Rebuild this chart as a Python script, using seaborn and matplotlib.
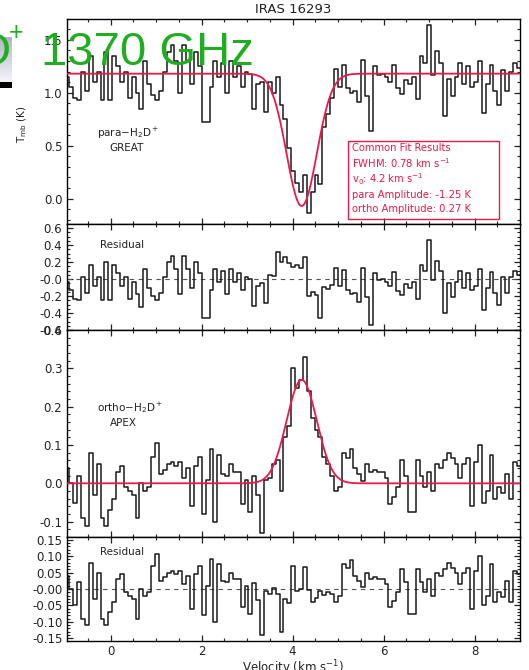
import numpy as np
import pandas as pd
import matplotlib
matplotlib.use("Agg")
import matplotlib.pyplot as plt
import seaborn as sns
from matplotlib.patches import Rectangle
from matplotlib.ticker import FixedLocator, FixedFormatter, MultipleLocator

# ---------------------------------------------------------------- data
# channel grid of the two spectra (km/s)
CHANNEL_START = -0.99
CHANNEL_WIDTH = 0.0855

# para-H2D+ (GREAT), main-beam temperature per channel (K)
para_tmb = [
    1.15, 1.05, 0.95, 0.93, 1.20, 1.02, 1.35, 1.10, 1.20, 0.93,
    1.38, 0.93, 1.35, 1.25, 1.10, 1.20, 0.95, 1.15, 1.00, 0.85,
    1.30, 1.08, 0.98, 0.93, 1.02, 1.20, 1.38, 1.45, 1.30, 1.00,
    1.45, 1.30, 1.08, 1.38, 1.25, 0.72, 0.72, 1.05, 1.30, 1.15,
    1.28, 1.00, 1.30, 1.15, 1.25, 1.05, 1.20, 1.18, 0.85, 1.08,
    1.10, 0.82, 1.10, 1.00, 1.15, 0.88, 0.75, 0.48, 0.26, 0.15,
    0.06, 0.22, -0.14, 0.06, 0.22, 0.14, 0.68, 0.80, 0.95, 1.22,
    1.05, 1.26, 1.04, 1.00, 1.02, 0.91, 1.31, 0.97, 0.64, 1.25,
    1.17, 1.18, 1.15, 1.10, 1.26, 1.04, 0.99, 1.12, 1.08, 1.15,
    0.94, 1.35, 1.28, 1.64, 1.17, 1.39, 1.28, 0.78, 1.13, 0.97,
    1.15, 1.28, 1.08, 1.25, 1.05, 1.10, 1.30, 0.81, 1.08, 1.26,
    1.02, 0.88, 1.21, 1.02, 1.20, 1.28, 1.23,
]

# ortho-H2D+ (APEX), main-beam temperature per channel (K)
ortho_tmb = [
    0.04, 0.00, -0.05, 0.02, -0.09, -0.11, 0.08, -0.03, 0.05, -0.09,
    -0.11, -0.07, -0.04, 0.03, 0.045, -0.01, -0.02, -0.03, -0.09, 0.00,
    -0.02, -0.01, 0.07, 0.105, 0.025, 0.035, 0.05, 0.055, 0.045, 0.055,
    0.015, 0.04, -0.06, 0.045, 0.07, -0.08, 0.01, 0.09, -0.10, 0.075,
    0.025, 0.02, 0.05, 0.03, 0.03, -0.055, 0.01, -0.075, 0.02, -0.03,
    -0.13, 0.01, 0.015, 0.05, 0.06, -0.02, 0.12, 0.15, 0.30, 0.25,
    0.27, 0.33, 0.24, 0.17, 0.14, 0.12, 0.07, 0.05, 0.02, -0.02,
    -0.01, 0.08, 0.065, 0.09, 0.04, 0.025, 0.005, 0.05, 0.03, 0.035,
    0.03, 0.03, 0.015, -0.055, -0.035, -0.01, 0.06, 0.02, -0.075, -0.075,
    0.06, 0.02, -0.01, 0.03, -0.02, 0.05, 0.04, 0.06, 0.08, 0.065,
    0.05, 0.015, 0.05, 0.065, -0.06, 0.055, 0.10, -0.05, -0.02, 0.075,
    -0.04, -0.01, -0.025, 0.025, -0.04, 0.055, 0.045,
]

# common Gaussian fit
FIT_FWHM = 0.78
FIT_V0 = 4.2
PARA_AMPLITUDE = -1.25
ORTHO_AMPLITUDE = 0.27
PARA_CONTINUUM = 1.18

x_ticks = [0, 2, 4, 6, 8]
x_tick_labels = ["0", "2", "4", "6", "8"]

panel_yticks = [
    ([0.0, 0.5, 1.0, 1.5], ["0.0", "0.5", "1.0", "1.5"]),
    ([-0.6, -0.4, -0.2, 0.0, 0.2, 0.4, 0.6],
     ["-0.6", "-0.4", "-0.2", "-0.0", "0.2", "0.4", "0.6"]),
    ([-0.1, 0.0, 0.1, 0.2, 0.3, 0.4], ["-0.1", "0.0", "0.1", "0.2", "0.3", "0.4"]),
    ([-0.15, -0.10, -0.05, 0.0, 0.05, 0.10, 0.15],
     ["-0.15", "-0.10", "-0.05", "-0.00", "0.05", "0.10", "0.15"]),
]
panel_ylims = [(-0.24, 1.70), (-0.6, 0.65), (-0.14, 0.40), (-0.158, 0.158)]
panel_minor = [0.1, 0.05, 0.02, 0.01]
XLIM = (-0.97, 8.99)

# ---------------------------------------------------------------- model
def gaussian(v, amp):
    return amp * np.exp(-4.0 * np.log(2.0) * ((v - FIT_V0) / FIT_FWHM) ** 2)

n_chan = len(para_tmb)
edges = CHANNEL_START + CHANNEL_WIDTH * np.arange(n_chan + 1)
centers = edges[:-1] + CHANNEL_WIDTH / 2

para = np.array(para_tmb)
ortho = np.array(ortho_tmb)
para_model = PARA_CONTINUUM + gaussian(centers, PARA_AMPLITUDE)
ortho_model = gaussian(centers, ORTHO_AMPLITUDE)
para_resid = para - para_model
ortho_resid = ortho - ortho_model

v_fine = np.linspace(XLIM[0], XLIM[1], 600)
fit_df = pd.DataFrame({
    "v": v_fine,
    "para": PARA_CONTINUUM + gaussian(v_fine, PARA_AMPLITUDE),
    "ortho": gaussian(v_fine, ORTHO_AMPLITUDE),
})

def step_frame(values):
    return pd.DataFrame({"v": edges, "t": np.append(values, values[-1])})

# ---------------------------------------------------------------- style
sns.set_theme(style="ticks")
plt.rcParams["font.family"] = ["DejaVu Sans"]
plt.rcParams.update({
    "axes.linewidth": 1.0,
    "axes.edgecolor": "black",
    "xtick.direction": "in",
    "ytick.direction": "in",
    "xtick.top": True,
    "ytick.right": True,
    "xtick.major.size": 4.0,
    "ytick.major.size": 4.0,
    "xtick.minor.size": 2.2,
    "ytick.minor.size": 2.2,
    "xtick.major.width": 0.9,
    "ytick.major.width": 0.9,
    "xtick.minor.width": 0.8,
    "ytick.minor.width": 0.8,
    "xtick.labelsize": 8.5,
    "ytick.labelsize": 8.5,
    "xtick.color": "#222222",
    "ytick.color": "#222222",
})

FIG_W, FIG_H = 529, 670
fig = plt.figure(figsize=(FIG_W / 100, FIG_H / 100), dpi=100)
fig.patch.set_facecolor("white")

def px(x, y):
    return x / FIG_W, 1 - y / FIG_H

left, right = 66.5, 519.6
bounds = [(18.6, 224), (224, 330), (330, 537), (537, 641)]
axes = []
for top, bottom in bounds:
    ax = fig.add_axes([left / FIG_W, 1 - bottom / FIG_H,
                       (right - left) / FIG_W, (bottom - top) / FIG_H])
    axes.append(ax)

FIT_RED = "#ee1846"
series = [para, para_resid, ortho, ortho_resid]
fit_cols = ["para", None, "ortho", None]

for k, ax in enumerate(axes):
    if fit_cols[k] is None:
        ax.axhline(0, color="#555555", lw=0.8, ls=(0, (4, 4)), zorder=1)
    sns.lineplot(data=step_frame(series[k]), x="v", y="t", drawstyle="steps-post",
                 estimator=None, sort=False, color="#1a1a1a", lw=1.1, ax=ax, zorder=2)
    if fit_cols[k] is not None:
        sns.lineplot(data=fit_df, x="v", y=fit_cols[k], color=FIT_RED, lw=1.3,
                     estimator=None, sort=False, ax=ax, zorder=3)
    ax.set_xlim(*XLIM)
    ax.set_ylim(*panel_ylims[k])
    locs, labels = panel_yticks[k]
    ax.yaxis.set_major_locator(FixedLocator(locs))
    ax.yaxis.set_major_formatter(FixedFormatter(labels))
    ax.yaxis.set_minor_locator(MultipleLocator(panel_minor[k]))
    ax.xaxis.set_major_locator(FixedLocator(x_ticks))
    ax.xaxis.set_minor_locator(MultipleLocator(0.5))
    ax.set_xlabel("")
    ax.set_ylabel("")
    ax.tick_params(which="both", top=True, right=True, direction="in", pad=3)
    if k < 3:
        ax.tick_params(labelbottom=False)
    else:
        ax.xaxis.set_major_formatter(FixedFormatter(x_tick_labels))
    for s in ax.spines.values():
        s.set_visible(True)
        s.set_color("black")

# ---------------------------------------------------------------- labels
def ftext(x, y, s, **kw):
    fx, fy = px(x, y)
    return fig.text(fx, fy, s, **kw)

ftext(293, 9.5, "IRAS 16293", ha="center", va="center", fontsize=9.5, color="#222222")
ftext(22, 124, r"T$_{\rm mb}$ (K)", ha="center", va="center", rotation=90,
      fontsize=7.5, color="#222222")
ftext(293, 668, r"Velocity (km s$^{-1}$)", ha="center", va="center", fontsize=8.5,
      color="#222222")

ftext(128, 133, r"para$-$H$_2$D$^+$", ha="center", va="center", fontsize=7.5, color="#222222")
ftext(127, 148, "GREAT", ha="center", va="center", fontsize=7.5, color="#222222")
ftext(122, 245, "Residual", ha="center", va="center", fontsize=7.5, color="#222222")
ftext(130, 408, r"ortho$-$H$_2$D$^+$", ha="center", va="center", fontsize=7.5,
      color="#222222")
ftext(123, 423, "APEX", ha="center", va="center", fontsize=7.5, color="#222222")
ftext(122, 552, "Residual", ha="center", va="center", fontsize=7.5, color="#222222")

# fit summary box
bx0, by0 = px(348, 219)
bx1, by1 = px(498.6, 141)
fig.add_artist(Rectangle((bx0, by0), bx1 - bx0, by1 - by0, transform=fig.transFigure,
                         fill=False, edgecolor=FIT_RED, lw=1.0, zorder=5))
box_lines = [
    "Common Fit Results",
    r"FWHM: 0.78 km s$^{-1}$",
    r"v$_0$: 4.2 km s$^{-1}$",
    "para Amplitude: -1.25 K",
    "ortho Amplitude: 0.27 K",
]
for line, y in zip(box_lines, [148, 163.5, 179, 194.5, 209.5]):
    ftext(352.5, y, line, ha="left", va="center", fontsize=7.2, color=FIT_RED)

# slide banner fragment in the upper-left corner
banner = fig.add_axes([0, 1 - 82 / FIG_H, 12 / FIG_W, 45 / FIG_H])
grad = np.linspace(0, 1, 64)[:, None]
top_c = np.array([0.70, 0.70, 0.78])
bot_c = np.array([0.96, 0.96, 0.98])
img = top_c[None, None, :] * (1 - grad[..., None]) + bot_c[None, None, :] * grad[..., None]
banner.imshow(np.repeat(img, 4, axis=1), aspect="auto")
banner.set_axis_off()
bar = fig.add_axes([0, 1 - 88 / FIG_H, 12 / FIG_W, 6 / FIG_H])
bar.set_facecolor("black")
bar.set_xticks([])
bar.set_yticks([])
for s in bar.spines.values():
    s.set_visible(False)

GREEN = "#1fae1f"
ftext(254, 65, "1370 GHz", ha="right", va="baseline", fontsize=34, color=GREEN,
      family="Liberation Sans", zorder=10)
ftext(10, 65, "D", ha="right", va="baseline", fontsize=34, color=GREEN,
      family="Liberation Sans", zorder=10)
ftext(16, 40, "+", ha="center", va="baseline", fontsize=18, color=GREEN,
      family="Liberation Sans", zorder=10)

fig.savefig("out.png", dpi=100, facecolor="white")
